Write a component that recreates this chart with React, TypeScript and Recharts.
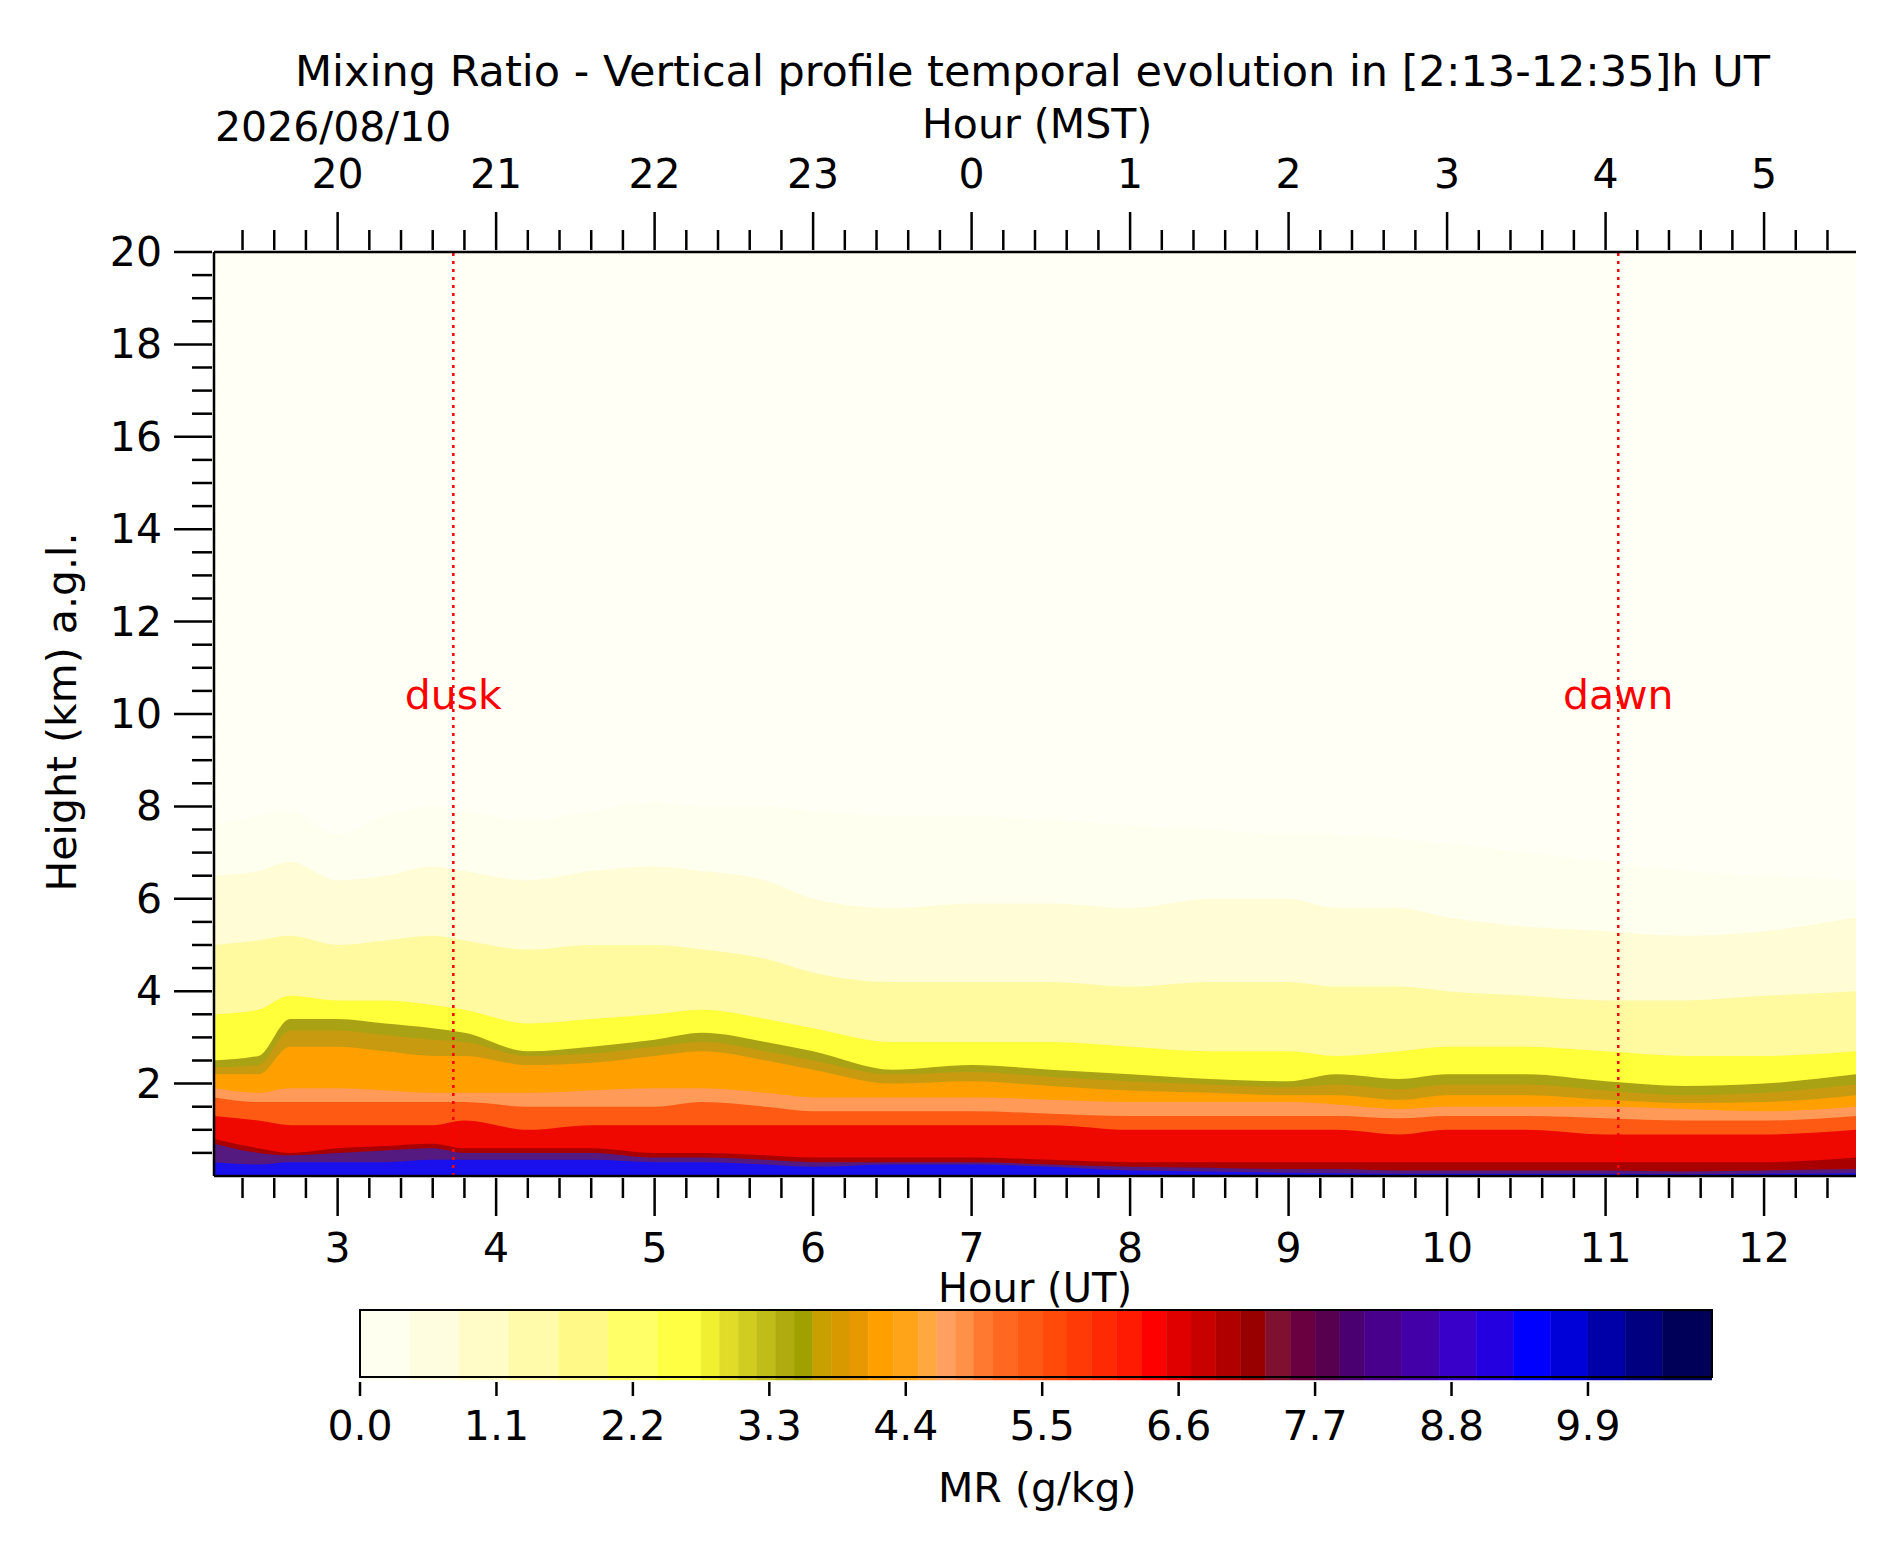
import { ComposedChart, BarChart, Bar, Area, XAxis, YAxis, CartesianGrid, ReferenceLine, ReferenceDot } from 'recharts';

// UT hour of each profile column
const times = [2.22, 2.5, 2.7, 3.0, 3.3, 3.6, 3.8, 4.2, 4.6, 5.0, 5.3, 5.7, 6.0, 6.5, 7.0, 7.5, 8.0, 8.5, 9.0, 9.3, 9.7, 10.0, 10.5, 11.0, 11.5, 12.0, 12.58];

// height (km) up to which each mixing-ratio level reaches, from faintest to strongest
const lvl0 = [7.6, 7.8, 7.9, 7.4, 7.8, 8.0, 7.9, 7.7, 7.9, 8.1, 8.0, 8.0, 7.9, 7.8, 7.8, 7.7, 7.6, 7.5, 7.4, 7.4, 7.3, 7.2, 7.0, 6.8, 6.6, 6.5, 6.4];
const lvl1 = [6.5, 6.6, 6.8, 6.4, 6.5, 6.7, 6.6, 6.4, 6.6, 6.7, 6.6, 6.4, 6.0, 5.8, 5.9, 5.9, 5.8, 6.0, 6.0, 5.8, 5.8, 5.6, 5.4, 5.3, 5.2, 5.3, 5.6];
const lvl2 = [5.0, 5.1, 5.2, 5.0, 5.1, 5.2, 5.1, 4.9, 5.0, 5.0, 4.9, 4.7, 4.4, 4.2, 4.2, 4.2, 4.1, 4.2, 4.2, 4.1, 4.1, 4.0, 3.9, 3.8, 3.8, 3.9, 4.0];
const lvl3 = [3.5, 3.6, 3.9, 3.8, 3.8, 3.7, 3.6, 3.3, 3.4, 3.5, 3.6, 3.4, 3.2, 2.9, 2.9, 2.9, 2.8, 2.7, 2.7, 2.6, 2.7, 2.8, 2.8, 2.7, 2.6, 2.6, 2.7];
const lvl4 = [2.5, 2.6, 3.4, 3.4, 3.3, 3.2, 3.1, 2.7, 2.8, 2.95, 3.1, 2.9, 2.7, 2.3, 2.4, 2.3, 2.2, 2.1, 2.05, 2.2, 2.1, 2.2, 2.2, 2.05, 1.95, 2.0, 2.2];
const lvl5 = [2.35, 2.4, 3.15, 3.15, 3.05, 2.95, 2.9, 2.6, 2.65, 2.8, 2.9, 2.7, 2.5, 2.2, 2.25, 2.15, 2.05, 1.98, 1.92, 1.98, 1.88, 1.98, 1.98, 1.85, 1.75, 1.8, 1.98];
const lvl6 = [2.2, 2.2, 2.8, 2.8, 2.7, 2.6, 2.6, 2.4, 2.45, 2.6, 2.7, 2.5, 2.3, 2.0, 2.05, 1.95, 1.85, 1.8, 1.75, 1.75, 1.65, 1.75, 1.75, 1.65, 1.58, 1.6, 1.75];
const lvl7 = [1.9, 1.8, 1.9, 1.9, 1.85, 1.8, 1.8, 1.8, 1.85, 1.9, 1.9, 1.8, 1.7, 1.7, 1.7, 1.65, 1.6, 1.6, 1.6, 1.55, 1.45, 1.5, 1.5, 1.5, 1.45, 1.4, 1.5];
const lvl8 = [1.7, 1.6, 1.6, 1.6, 1.6, 1.6, 1.6, 1.5, 1.5, 1.5, 1.6, 1.5, 1.4, 1.4, 1.4, 1.35, 1.3, 1.3, 1.3, 1.3, 1.25, 1.3, 1.3, 1.25, 1.2, 1.2, 1.3];
const lvl9 = [1.3, 1.2, 1.1, 1.1, 1.1, 1.1, 1.2, 1.0, 1.1, 1.1, 1.1, 1.1, 1.1, 1.1, 1.1, 1.1, 1.0, 1.0, 1.0, 1.0, 0.9, 1.0, 1.0, 0.9, 0.9, 0.9, 1.0];
const lvl10 = [0.8, 0.6, 0.5, 0.6, 0.65, 0.7, 0.6, 0.6, 0.6, 0.5, 0.5, 0.45, 0.4, 0.4, 0.4, 0.35, 0.3, 0.3, 0.3, 0.3, 0.3, 0.3, 0.3, 0.3, 0.3, 0.3, 0.4];
const lvl11 = [0.7, 0.5, 0.45, 0.5, 0.55, 0.6, 0.5, 0.5, 0.5, 0.4, 0.4, 0.35, 0.3, 0.3, 0.3, 0.25, 0.2, 0.18, 0.15, 0.15, 0.12, 0.12, 0.12, 0.12, 0.1, 0.12, 0.15];
const lvl12 = [0.3, 0.25, 0.3, 0.3, 0.3, 0.35, 0.35, 0.35, 0.35, 0.3, 0.3, 0.25, 0.2, 0.25, 0.25, 0.2, 0.12, 0.1, 0.07, 0.06, 0.05, 0.05, 0.05, 0.05, 0.04, 0.05, 0.06];

const levels = [lvl0, lvl1, lvl2, lvl3, lvl4, lvl5, lvl6, lvl7, lvl8, lvl9, lvl10, lvl11, lvl12];
const levelColors = ['#fffff0', '#fffcd6', '#fffaa0', '#ffff3a', '#a8a214', '#c89a10', '#ffa000', '#ff9a58', '#ff5a14', '#ee0800', '#a80000', '#551a80', '#1a10ee'];

// colorbar
const cbTicks = [0, 1.1, 2.2, 3.3, 4.4, 5.5, 6.6, 7.7, 8.8, 9.9];
const cbEdges = [0, 0.4, 0.8, 1.2, 1.6, 2.0, 2.4, 2.75, 2.9, 3.05, 3.2, 3.35, 3.5, 3.65, 3.8, 3.95, 4.1, 4.3, 4.5, 4.65, 4.8, 4.95, 5.1, 5.3, 5.5, 5.7, 5.9, 6.1, 6.3, 6.5, 6.7, 6.9, 7.1, 7.3, 7.5, 7.7, 7.9, 8.1, 8.4, 8.7, 9.0, 9.3, 9.6, 9.9, 10.2, 10.5, 10.9];
const cbColors = ['#fffff0', '#fffde0', '#fffcc8', '#fffbaa', '#fffa88', '#ffff68', '#ffff44', '#f0f030', '#e0dc28', '#d0cc20', '#c0bc18', '#b0ac10', '#a0a000', '#c8a000', '#d89800', '#e89800', '#ffa000', '#ffa418', '#ffa840', '#ffa060', '#ff9048', '#ff7a30', '#ff6820', '#ff5a14', '#ff4a0a', '#ff3a06', '#ff2a04', '#ff1a02', '#ff0000', '#e00000', '#c80000', '#b00000', '#980000', '#801030', '#6a0040', '#580050', '#4a0070', '#48008c', '#4400a8', '#3800c8', '#2400e0', '#0000ff', '#0000d8', '#0000a8', '#000080', '#000058'];

const font = 'DejaVu Sans, sans-serif';
const fs = 41;
const data = times.map((t, i) => {
  const row: Record<string, number> = { t };
  levels.forEach((l, k) => (row['l' + k] = l[i]));
  return row;
});
const cbRow: Record<string, any> = { name: 'cb' };
cbColors.forEach((_, i) => (cbRow['b' + i] = cbEdges[i + 1] - cbEdges[i]));
const cbData = [cbRow];

const range = (a: number, b: number, s: number) => {
  const out: number[] = [];
  for (let v = a; v <= b + 1e-9; v += s) out.push(Math.round(v * 10) / 10);
  return out;
};
const xTicks = range(2.4, 12.4, 0.2);
const yTicks = range(0.5, 20, 0.5);

function XTick(props: any) {
  const { x, y, payload, top } = props;
  const v = payload.value;
  const major = Math.abs(v - Math.round(v)) < 1e-6;
  const len = major ? 38 : 20;
  const d = top ? -1 : 1;
  const lab = top ? ((Math.round(v) - 7 + 24) % 24).toString() : String(Math.round(v));
  return (
    <g>
      <line x1={x} x2={x} y1={y} y2={y + d * len} stroke="#000" strokeWidth={2.5} />
      {major && (
        <text x={x} y={top ? y - 62 : y + 84} textAnchor="middle" fontSize={fs} fontFamily={font} fill="#000">{lab}</text>
      )}
    </g>
  );
}

function YTick(props: any) {
  const { x, y, payload } = props;
  const v = payload.value;
  const major = Math.abs(v / 2 - Math.round(v / 2)) < 1e-6;
  const len = major ? 38 : 20;
  return (
    <g>
      <line x1={x} x2={x - len} y1={y} y2={y} stroke="#000" strokeWidth={2.5} />
      {major && (
        <text x={x - 50} y={y + 14} textAnchor="end" fontSize={fs} fontFamily={font} fill="#000">{v}</text>
      )}
    </g>
  );
}

function CbTick(props: any) {
  const { x, y, payload } = props;
  return (
    <g>
      <line x1={x} x2={x} y1={y} y2={y + 14} stroke="#000" strokeWidth={2.5} />
      <text x={x} y={y + 58} textAnchor="middle" fontSize={fs} fontFamily={font} fill="#000">{payload.value.toFixed(1)}</text>
    </g>
  );
}

const txt = (s: string, left: number, top: number, extra: any = {}) => (
  <div style={{ position: 'absolute', left, top, fontFamily: font, fontSize: fs, whiteSpace: 'nowrap', lineHeight: 1, ...extra }}>{s}</div>
);

export default function App() {
  return (
    <div style={{ position: 'absolute', left: 0, top: 0, width: 1900, height: 1550, background: '#fff' }}>
      <ComposedChart width={1900} height={1550} data={data} margin={{ top: 192, right: 44, bottom: 314, left: 114 }}>
        <CartesianGrid horizontal={false} vertical={false} fill="#fffff6" />
        <XAxis xAxisId="b" dataKey="t" type="number" domain={[2.22, 12.58]} ticks={xTicks} height={60} tick={<XTick />} tickLine={false} tickSize={0} axisLine={{ stroke: '#000', strokeWidth: 2.5 }} interval={0} allowDataOverflow />
        <XAxis xAxisId="t" orientation="top" dataKey="t" type="number" domain={[2.22, 12.58]} ticks={xTicks} height={60} tick={<XTick top />} tickLine={false} tickSize={0} axisLine={{ stroke: '#000', strokeWidth: 2.5 }} interval={0} allowDataOverflow />
        <YAxis yAxisId="l" type="number" domain={[0, 20]} ticks={yTicks} width={100} tick={<YTick />} tickLine={false} tickSize={0} axisLine={{ stroke: '#000', strokeWidth: 2.5 }} interval={0} />
        <YAxis yAxisId="r" orientation="right" type="number" domain={[0, 20]} width={0} tick={false} tickLine={false} axisLine={{ stroke: '#000', strokeWidth: 2.5 }} />
        {levels.map((_, k) => (
          <Area key={k} xAxisId="b" yAxisId="l" dataKey={'l' + k} type="monotone" stroke="none" fill={levelColors[k]} fillOpacity={1} isAnimationActive={false} />
        ))}
        <ReferenceLine xAxisId="b" yAxisId="l" x={3.73} stroke="red" strokeWidth={2.5} strokeDasharray="3 5" />
        <ReferenceLine xAxisId="b" yAxisId="l" x={11.08} stroke="red" strokeWidth={2.5} strokeDasharray="3 5" />
        <ReferenceDot xAxisId="b" yAxisId="l" x={3.73} y={10} r={0} stroke="none" label={{ value: 'dusk', fill: 'red', fontSize: fs, fontFamily: font, position: 'top' }} />
        <ReferenceDot xAxisId="b" yAxisId="l" x={11.08} y={10} r={0} stroke="none" label={{ value: 'dawn', fill: 'red', fontSize: fs, fontFamily: font, position: 'top' }} />
      </ComposedChart>

      <div style={{ position: 'absolute', left: 300, top: 1296 }}>
        <BarChart width={1480} height={170} data={cbData} layout="vertical" barCategoryGap={0} margin={{ top: 14, right: 68, bottom: 0, left: 60 }}>
          <XAxis type="number" domain={[0, 10.9]} ticks={cbTicks} height={86} tick={<CbTick />} tickLine={false} tickSize={0} axisLine={false} interval={0} allowDataOverflow />
          <YAxis type="category" dataKey="name" hide />
          {cbColors.map((c, i) => (
            <Bar key={i} dataKey={'b' + i} stackId="cb" fill={c} stroke={c} strokeWidth={0.5} isAnimationActive={false} />
          ))}
        </BarChart>
        <div style={{ position: 'absolute', left: 59, top: 13, width: 1354, height: 69, border: '2.5px solid #000', boxSizing: 'border-box' }} />
      </div>

      {txt('Mixing Ratio - Vertical profile temporal evolution in [2:13-12:35]h UT', 295, 50, { fontSize: 43 })}
      {txt('2026/08/10', 215, 107)}
      {txt('Hour (MST)', 922, 104)}
      {txt('Hour (UT)', 938, 1268, { fontSize: 40 })}
      {txt('MR (g/kg)', 938, 1468)}
      {txt('Height (km) a.g.l.', 62, 712, { transform: 'translate(-50%, -50%) rotate(-90deg)', transformOrigin: 'center' })}
    </div>
  );
}
